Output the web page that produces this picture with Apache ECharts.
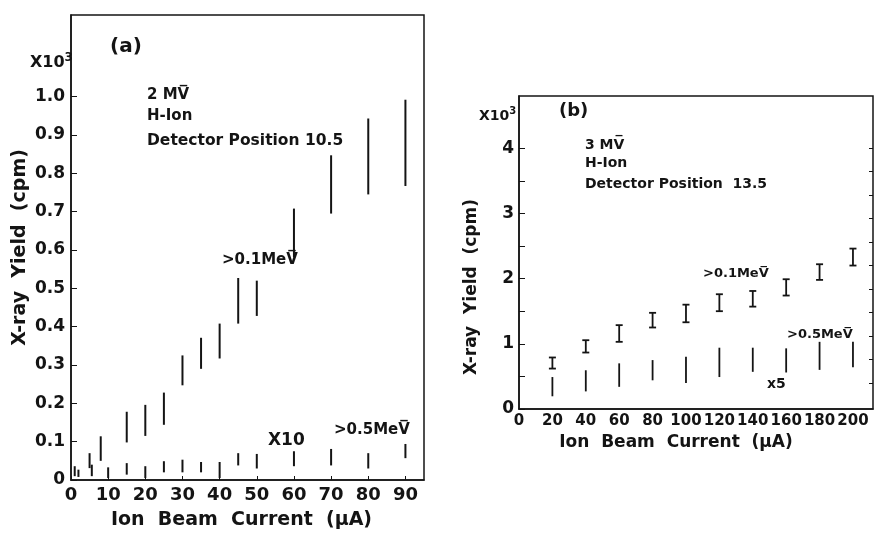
<!DOCTYPE html>
<html>
<head>
<meta charset="utf-8">
<script src="https://cdn.jsdelivr.net/npm/echarts@6/dist/echarts.min.js"></script>
<style>
  html, body { margin: 0; padding: 0; background: #fff; }
  #chart { width: 874px; height: 535px; }
</style>
</head>
<body>
<div id="chart"></div>
<script>
// (a) 2 MV, detector position 10.5 -- x: ion beam current (uA), y: yield (x10^3 cpm)
const aCurrentHi = [1, 5, 8, 15, 20, 25, 30, 35, 40, 45, 50, 60, 70, 80, 90]
const aHiTop = [0.036, 0.07, 0.114, 0.178, 0.196, 0.228, 0.325, 0.371, 0.408, 0.527, 0.52, 0.708, 0.847, 0.943, 0.992]
const aHiBottom = [0.01, 0.031, 0.05, 0.098, 0.115, 0.144, 0.247, 0.29, 0.317, 0.408, 0.428, 0.581, 0.695, 0.745, 0.767]
// >0.5 MeV, shown x10
const aCurrentLo = [2, 5.6, 10, 15, 20, 25, 30, 35, 40, 45, 50, 60, 70, 80, 90]
const aLoTop = [0.027, 0.04, 0.033, 0.044, 0.036, 0.049, 0.053, 0.047, 0.047, 0.07, 0.068, 0.075, 0.081, 0.07, 0.094]
const aLoBottom = [0.008, 0.01, 0.005, 0.014, 0.005, 0.02, 0.02, 0.02, 0.005, 0.038, 0.03, 0.036, 0.038, 0.03, 0.057]
const aXTicks = [0, 10, 20, 30, 40, 50, 60, 70, 80, 90]
const aYTicks = [0, 0.1, 0.2, 0.3, 0.4, 0.5, 0.6, 0.7, 0.8, 0.9, 1.0]

// (b) 3 MV, detector position 13.5
const bCurrent = [20, 40, 60, 80, 100, 120, 140, 160, 180, 200]
const bHiTop = [0.79, 1.055, 1.286, 1.475, 1.6, 1.76, 1.81, 1.99, 2.22, 2.46]
const bHiBottom = [0.62, 0.866, 1.03, 1.25, 1.33, 1.5, 1.57, 1.74, 1.98, 2.2]
// >0.5 MeV, shown x5
const bLoTop = [0.49, 0.594, 0.7, 0.75, 0.8, 0.94, 0.94, 0.93, 1.03, 1.03]
const bLoBottom = [0.195, 0.27, 0.34, 0.44, 0.4, 0.49, 0.57, 0.56, 0.6, 0.64]
const bXTicks = [0, 20, 40, 60, 80, 100, 120, 140, 160, 180, 200]
const bYLabels = [0, 1, 2, 3, 4]
const bYTicks = [0, 0.5, 1, 1.5, 2, 2.5, 3, 3.5, 4]
const bRightTicks = [4, 3.64, 3.28, 2.92, 2.56, 2.2, 1.84, 1.48, 1.12, 0.76, 0.4]

const FONT = 'DejaVu Sans'
const INK = '#141414'

function rows(xs, tops, bottoms) {
  return xs.map((x, i) => [x, tops[i], bottoms[i]])
}

// vertical range mark, optional end caps
function rangeMark(cap, width) {
  return function (params, api) {
    const x = api.value(0)
    const p1 = api.coord([x, api.value(1)])
    const p2 = api.coord([x, api.value(2)])
    const style = { stroke: INK, lineWidth: width }
    const children = [
      { type: 'line', shape: { x1: p1[0], y1: p1[1], x2: p2[0], y2: p2[1] }, style: style }
    ]
    if (cap) {
      children.push({ type: 'line', shape: { x1: p1[0] - cap, y1: p1[1], x2: p1[0] + cap, y2: p1[1] }, style: style })
      children.push({ type: 'line', shape: { x1: p2[0] - cap, y1: p2[1], x2: p2[0] + cap, y2: p2[1] }, style: style })
    }
    return { type: 'group', children: children }
  }
}

const labelStyle = { color: INK, fontFamily: FONT, fontWeight: 'bold' }

function note(left, top, text, size) {
  return {
    type: 'text', left: left, top: top,
    style: { text: text, fill: INK, font: 'bold ' + size + 'px "' + FONT + '"' }
  }
}
function power(left, top, size) {
  return {
    type: 'text', left: left, top: top,
    style: {
      text: 'X10{s|3}', fill: INK, fontFamily: FONT, fontWeight: 'bold', fontSize: size,
      rich: { s: { fontSize: size - 4, fontWeight: 'bold', fontFamily: FONT, verticalAlign: 'top', padding: [0, 0, 10, 0] } }
    }
  }
}

var myChart = echarts.init(document.getElementById('chart'))

let option = {
  backgroundColor: '#fff',
  animation: false,
  grid: [
    { left: 71, top: 15, width: 353, height: 467, show: true, borderColor: INK, borderWidth: 1.5 },
    { left: 519, top: 96, width: 354, height: 313, show: true, borderColor: INK, borderWidth: 1.5 }
  ],
  xAxis: [
    {
      gridIndex: 0, type: 'value', min: 0, max: 95,
      name: 'Ion  Beam  Current  (\u03bcA)', nameLocation: 'middle', nameGap: 31,
      nameTextStyle: Object.assign({ fontSize: 19, padding: [0, 12, 0, 0] }, labelStyle),
      axisLine: { show: true, lineStyle: { color: INK, width: 1.5 } },
      axisTick: { show: true, inside: true, length: 4, customValues: aXTicks, lineStyle: { color: INK } },
      axisLabel: Object.assign({ fontSize: 18, margin: 6, customValues: aXTicks }, labelStyle),
      splitLine: { show: false }
    },
    {
      gridIndex: 1, type: 'value', min: 0, max: 212,
      name: 'Ion  Beam  Current  (\u03bcA)', nameLocation: 'middle', nameGap: 24,
      nameTextStyle: Object.assign({ fontSize: 17, padding: [0, 40, 0, 0] }, labelStyle),
      axisLine: { show: true, lineStyle: { color: INK, width: 1.5 } },
      axisTick: { show: false },
      axisLabel: Object.assign({ fontSize: 15, margin: 5, customValues: bXTicks }, labelStyle),
      splitLine: { show: false }
    }
  ],
  yAxis: [
    {
      gridIndex: 0, type: 'value', min: 0, max: 1.213,
      name: 'X-ray  Yield  (cpm)', nameLocation: 'middle', nameGap: 41,
      nameTextStyle: Object.assign({ fontSize: 19 }, labelStyle),
      axisLine: { show: true, lineStyle: { color: INK, width: 1.5 } },
      axisTick: { show: true, inside: true, length: 6, customValues: aYTicks, lineStyle: { color: INK } },
      axisLabel: Object.assign({
        fontSize: 17, margin: 6, customValues: aYTicks,
        formatter: v => (v === 0 ? '0' : v.toFixed(1))
      }, labelStyle),
      splitLine: { show: false }
    },
    {
      gridIndex: 1, type: 'value', min: 0, max: 4.8,
      axisLine: { show: true, lineStyle: { color: INK, width: 1.5 } },
      axisTick: { show: true, inside: true, length: 6, customValues: bYTicks, lineStyle: { color: INK } },
      axisLabel: Object.assign({ fontSize: 17, margin: 5, customValues: bYLabels }, labelStyle),
      splitLine: { show: false }
    },
    {
      gridIndex: 1, type: 'value', min: 0, max: 4.8, position: 'right',
      axisLine: { show: false },
      axisTick: { show: true, inside: true, length: 4, customValues: bRightTicks, lineStyle: { color: INK } },
      axisLabel: { show: false },
      splitLine: { show: false }
    }
  ],
  series: [
    {
      name: '>0.1MeV (a)', type: 'custom', xAxisIndex: 0, yAxisIndex: 0,
      renderItem: rangeMark(0, 2), encode: { x: 0, y: [1, 2] },
      data: rows(aCurrentHi, aHiTop, aHiBottom)
    },
    {
      name: '>0.5MeV x10 (a)', type: 'custom', xAxisIndex: 0, yAxisIndex: 0,
      renderItem: rangeMark(0, 2), encode: { x: 0, y: [1, 2] },
      data: rows(aCurrentLo, aLoTop, aLoBottom)
    },
    {
      name: '>0.1MeV (b)', type: 'custom', xAxisIndex: 1, yAxisIndex: 1,
      renderItem: rangeMark(3.5, 1.8), encode: { x: 0, y: [1, 2] },
      data: rows(bCurrent, bHiTop, bHiBottom)
    },
    {
      name: '>0.5MeV x5 (b)', type: 'custom', xAxisIndex: 1, yAxisIndex: 1,
      renderItem: rangeMark(0, 1.8), encode: { x: 0, y: [1, 2] },
      data: rows(bCurrent, bLoTop, bLoBottom)
    }
  ],
  graphic: [
    // panel (a)
    note(110, 37, '(a)', 20),
    power(30, 52, 16),
    note(147, 88, '2 MV\u0305', 15),
    note(147, 109, 'H-Ion', 15),
    note(147, 133, 'Detector Position 10.5', 15.5),
    note(222, 253, '>0.1MeV\u0305', 15),
    note(268, 432, 'X10', 17),
    note(334, 423, '>0.5MeV\u0305', 15),
    // panel (b)
    note(559, 102, '(b)', 18),
    power(479, 106, 14),
    note(585, 138, '3 MV\u0305', 14),
    note(585, 156, 'H-Ion', 14),
    note(585, 177, 'Detector Position  13.5', 14),
    note(703, 267, '>0.1MeV\u0305', 13),
    note(787, 328, '>0.5MeV\u0305', 13),
    note(767, 377, 'x5', 14),
    {
      type: 'text', x: 472, y: 287, rotation: Math.PI / 2,
      style: {
        text: 'X-ray  Yield  (cpm)', fill: INK, font: 'bold 17px "' + FONT + '"',
        align: 'center', verticalAlign: 'middle'
      }
    }
  ]
}

myChart.setOption(option)
window.onresize = function () {
  myChart.resize()
}
</script>
</body>
</html>
